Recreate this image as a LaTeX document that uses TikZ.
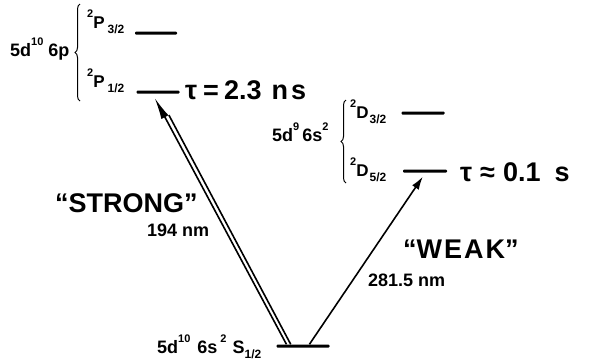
\documentclass[tikz,border=0pt]{standalone}
\usepackage{fontspec}
\setmainfont{Liberation Sans}
\newfontfamily\hand{Liberation Sans}
\usetikzlibrary{arrows.meta,decorations.pathreplacing,calc}
\newcommand{\sups}[1]{\raisebox{0.6em}{\fontsize{11}{11}\selectfont #1}}
\newcommand{\subs}[1]{\raisebox{-0.3em}{\fontsize{12}{12}\selectfont #1}}
\newcommand{\gap}[1]{\hspace{#1pt}}
\begin{document}
\begin{tikzpicture}[x=1pt,y=-1pt,
  lbl/.style={font=\bfseries\fontsize{18}{18}\selectfont, inner sep=0pt, anchor=base west},
  slbl/.style={font=\bfseries\fontsize{17}{17}\selectfont, inner sep=0pt, anchor=base west},
  big/.style={font=\hand\bfseries\fontsize{27}{27}\selectfont, inner sep=0pt, anchor=base west},
  level/.style={fill=black, inner sep=0pt, minimum height=3pt, rounded corners=1pt},
  bracedeco/.style={decorate, decoration={brace, amplitude=5pt}, line width=1pt},
  trans/.style={line width=1.6pt}]
\useasboundingbox (0,0) rectangle (599,360);
% levels
\node[level, minimum width=42pt] (P32) at (156,33) {};
\node[level, minimum width=43pt] (P12) at (158,92) {};
\node[level, minimum width=43pt] (D32) at (423,113) {};
\node[level, minimum width=44pt] (D52) at (425,171) {};
\node[level, minimum width=53pt] (S12) at (303,346) {};
% labels
\node[lbl] (cfgP) at (10,56) {5d\sups{10}\gap{5}6p};
\draw[bracedeco] (80,101) -- (80,4);
\node[slbl] (lP32) at (87,28) {\sups{2}P\gap{3}\subs{3/2}};
\node[slbl] (lP12) at (87,87) {\sups{2}P\gap{3}\subs{1/2}};
\node[lbl] (cfgD) at (272,141) {5d\sups{9}\gap{3}6s\sups{2}};
\draw[bracedeco] (346,183) -- (346,100);
\node[slbl] (lD32) at (350,118) {\sups{2}D\gap{1}\subs{3/2}};
\node[slbl] (lD52) at (350,176) {\sups{2}D\gap{1}\subs{5/2}};
\node[lbl] (cfgS) at (157,353) {5d\sups{10}\gap{7}6s\gap{3}\sups{2}\gap{6}S\subs{1/2}};
% lifetimes
\node[big] (tauP) at (185,99) {τ\gap{6}=\gap{5}2.3\gap{10}n\gap{3}s};
\node[big] (tauD) at (460,181) {τ\gap{8}≈\gap{8}0.1\gap{14}s};
% transitions
\coordinate (sA) at ($(S12.north west)!0.19!(S12.north east)$);
\coordinate (sB) at ($(S12.north west)!0.27!(S12.north east)$);
\coordinate (sW) at ($(S12.north west)!0.62!(S12.north east)$);
\coordinate (tipP) at ($(P12.south west)!0.42!(P12.south east)+(0,4)$);
\coordinate (baseP) at ($(tipP)!22pt!(sA)+(4,-2)$);
\coordinate (tipD) at ($(D52.south west)!0.45!(D52.south east)+(0,4)$);
\draw[trans, -{Latex[length=22pt,width=8pt]}] (sA) -- (tipP);
\draw[trans] (sB) -- (baseP);
\draw[trans, -{Latex[length=13pt,width=8pt]}] (sW) -- (tipD);
% transition labels
\node[big] (strong) at (55,212) {“STRONG”};
\node[lbl] (nm194) at (147,236) {194 nm};
\node[big] (weak) at (403,258) {“W\gap{2}E\gap{2}A\gap{2}K”};
\node[lbl] (nm281) at (368,286) {281.5 nm};
\end{tikzpicture}
\end{document}
